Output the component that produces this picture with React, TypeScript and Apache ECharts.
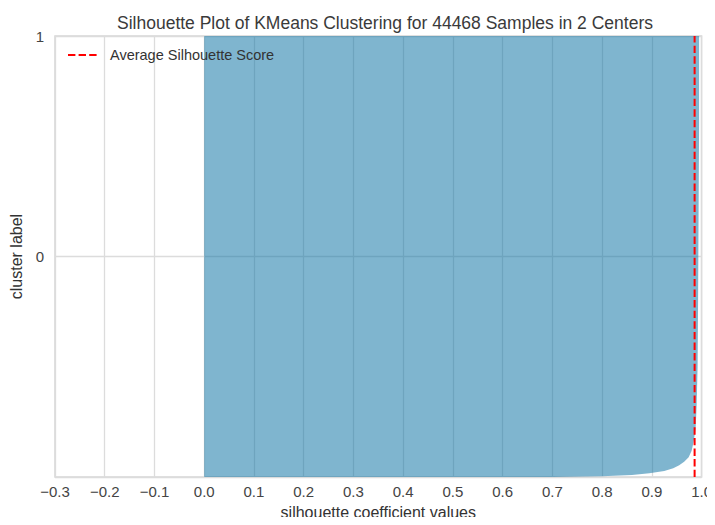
import React, { useEffect, useRef } from "react";
import * as echarts from "echarts";

const titleText = "Silhouette Plot of KMeans Clustering for 44468 Samples in 2 Centers";
const legendText = "Average Silhouette Score";
const clusterLabels = ["0", "1"];
const clusterLabelPositions = [0.5, 1.0];
// sorted silhouette values (cluster 0), position as fraction of the plot height
const silhouetteFraction = [0, 0.002, 0.005, 0.009, 0.014, 0.02, 0.027, 0.035, 0.045, 0.06, 0.08, 0.11, 0.16, 0.25, 0.4, 0.6, 0.8, 1.0];
const silhouetteValue = [0.7, 0.8, 0.86, 0.895, 0.925, 0.943, 0.955, 0.965, 0.974, 0.98, 0.984, 0.988, 0.99, 0.992, 0.993, 0.994, 0.995, 0.995];
const averageScore = 0.986;

const FONT = "Liberation Sans, Arial, sans-serif";

export default function App() {
  const ref = useRef<HTMLDivElement>(null);
  useEffect(() => {
    if (!ref.current) return;
    const chart = echarts.init(ref.current, undefined, { renderer: "svg" });
    const pts = silhouetteFraction.map((f, i) => [silhouetteValue[i], f]);
    chart.setOption({
      animation: false,
      backgroundColor: "#ffffff",
      title: {
        text: titleText,
        left: 112,
        top: 9,
        textStyle: { fontFamily: FONT, fontSize: 17.5, fontWeight: "normal", color: "#3a3a3a" },
      },
      graphic: [
        {
          type: "line",
          z: 10,
          shape: { x1: 68, y1: 55, x2: 97, y2: 55 },
          style: { stroke: "#ff0000", lineWidth: 2, lineDash: [7.4, 3.2] },
        },
        {
          type: "text",
          z: 10,
          x: 110,
          y: 55,
          style: {
            text: legendText,
            fontFamily: FONT,
            fontSize: 14.5,
            fill: "#333",
            verticalAlign: "middle",
            align: "left",
          },
        },
      ],
      grid: {
        left: 55,
        right: 9,
        top: 36,
        bottom: 46,
        show: true,
        borderColor: "#d6d6d6",
        borderWidth: 1.5,
        backgroundColor: "transparent",
      },
      xAxis: {
        type: "value",
        min: -0.3,
        max: 1.0,
        interval: 0.1,
        name: "silhouette coefficient values",
        nameLocation: "middle",
        nameGap: 24,
        nameTextStyle: { fontFamily: FONT, fontSize: 16, color: "#333" },
        axisLine: { show: false },
        axisTick: { show: false },
        axisLabel: {
          margin: 7,
          fontFamily: FONT,
          fontSize: 15,
          color: "#444",
          formatter: (v: number) => {
            const s = v.toFixed(1);
            return s.startsWith("-") ? "\u2212" + s.slice(1) : s;
          },
        },
        splitLine: { show: true, lineStyle: { color: "#dcdcdc", width: 1.3 } },
      },
      yAxis: {
        type: "value",
        min: 0,
        max: 1,
        interval: 0.5,
        name: "cluster label",
        nameLocation: "middle",
        nameGap: 25,
        nameTextStyle: { fontFamily: FONT, fontSize: 16, color: "#333" },
        axisLine: { show: false },
        axisTick: { show: false },
        axisLabel: {
          margin: 11,
          fontFamily: FONT,
          fontSize: 15,
          color: "#444",
          formatter: (v: number) => {
            const idx = clusterLabelPositions.findIndex((p) => Math.abs(p - v) < 1e-6);
            return idx >= 0 ? clusterLabels[idx] : "";
          },
        },
        splitLine: { show: true, lineStyle: { color: "#dcdcdc", width: 1.3 } },
      },
      series: [
        {
          type: "custom",
          name: "cluster 0",
          data: pts,
          z: 3,
          renderItem: (params: any, api: any) => {
            if (params.dataIndex !== 0) return null;
            const poly: number[][] = [];
            poly.push(api.coord([0, silhouetteFraction[0]]));
            for (let i = 0; i < pts.length; i++) poly.push(api.coord(pts[i]));
            poly.push(api.coord([0, silhouetteFraction[silhouetteFraction.length - 1]]));
            return {
              type: "polygon",
              shape: { points: poly },
              style: { fill: "rgba(0,108,160,0.5)", stroke: "none" },
            };
          },
        },
        {
          type: "line",
          name: legendText,
          data: [
            [averageScore, 0],
            [averageScore, 1],
          ],
          symbol: "none",
          z: 5,
          color: "#ff0000",
          lineStyle: { color: "#ff0000", width: 2, type: [7.4, 3.2] },
        },
      ],
    });
    return () => chart.dispose();
  }, []);
  return <div ref={ref} style={{ width: 715, height: 525, margin: -8 }} />;
}
